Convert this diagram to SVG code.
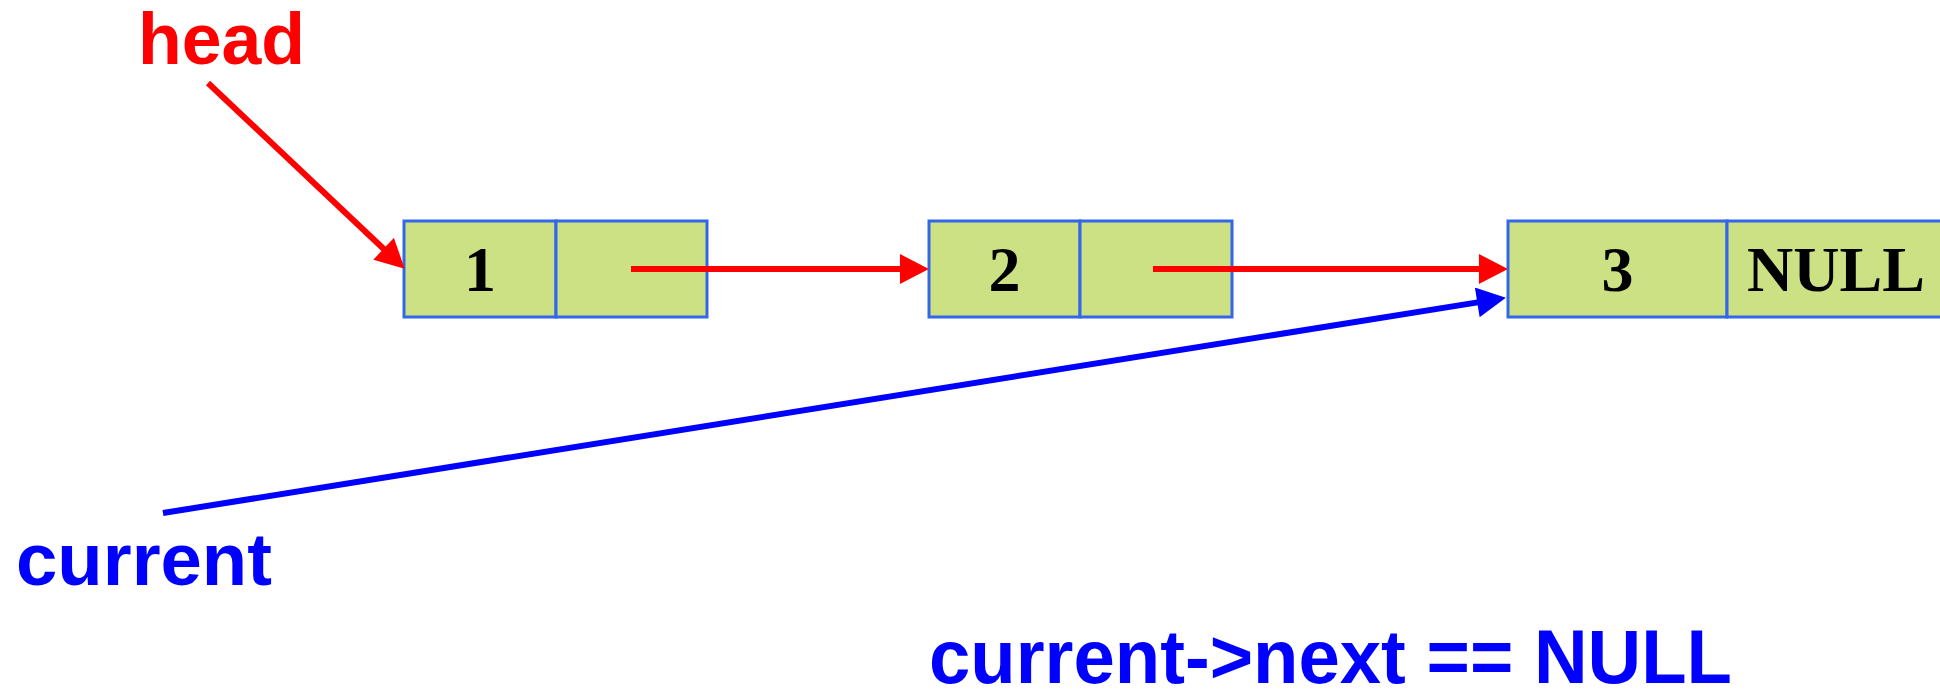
<svg xmlns="http://www.w3.org/2000/svg" width="1940" height="690" viewBox="0 0 1940 690">
<style>
.cell{fill:#CBE184;stroke:#3366E8;stroke-width:3}
.val{font-family:"Liberation Serif","Times New Roman",serif;font-weight:bold;font-size:64px;fill:#000;text-anchor:middle}
.lbl{font-family:"Liberation Sans",Arial,sans-serif;font-weight:bold;font-size:72px}
.red{stroke:#FF0000;stroke-width:6;fill:none}
.blue{stroke:#0000FF;stroke-width:6;fill:none}
</style>
<defs>
<marker id="ar" markerUnits="userSpaceOnUse" markerWidth="30" markerHeight="30" refX="2" refY="14.5" orient="auto" viewBox="0 0 28 29">
<path d="M0,0 L28,14.5 L0,29 z" fill="#FF0000"/>
</marker>
<marker id="ab" markerUnits="userSpaceOnUse" markerWidth="30" markerHeight="30" refX="2" refY="14.5" orient="auto" viewBox="0 0 28 29">
<path d="M0,0 L28,14.5 L0,29 z" fill="#0000FF"/>
</marker>
</defs>
<rect width="1940" height="690" fill="#fff"/>
<g id="node1">
<rect class="cell" x="404" y="221" width="152" height="96"/>
<rect class="cell" x="556" y="221" width="151" height="96"/>
<text class="val" x="480" y="291">1</text>
</g>
<g id="node2">
<rect class="cell" x="929" y="221" width="151" height="96"/>
<rect class="cell" x="1080" y="221" width="152" height="96"/>
<text class="val" x="1004.5" y="291">2</text>
</g>
<g id="node3">
<rect class="cell" x="1508" y="221" width="219" height="96"/>
<rect class="cell" x="1727" y="221" width="219" height="96"/>
<text class="val" x="1617.5" y="291">3</text>
<text class="val" x="1836" y="291">NULL</text>
</g>
<g id="label-head">
<text class="lbl" x="138" y="64" fill="#FF0000" textLength="167" lengthAdjust="spacingAndGlyphs">head</text>
</g>
<g id="label-current">
<text class="lbl" x="16" y="585" fill="#0000FF" style="font-size:74px" textLength="256" lengthAdjust="spacingAndGlyphs">current</text>
</g>
<g id="label-condition">
<text class="lbl" x="929" y="683" fill="#0000FF" style="font-size:76px" textLength="803" lengthAdjust="spacingAndGlyphs">current-&gt;next == NULL</text>
</g>
<g id="connectors">
<line class="red" x1="208" y1="83" x2="385.1" y2="250.2" marker-end="url(#ar)"/>
<line class="red" x1="631" y1="269" x2="902" y2="269" marker-end="url(#ar)"/>
<line class="red" x1="1153" y1="269" x2="1481" y2="269" marker-end="url(#ar)"/>
<line class="blue" x1="163" y1="513" x2="1479.3" y2="302.1" marker-end="url(#ab)"/>
</g>
</svg>
